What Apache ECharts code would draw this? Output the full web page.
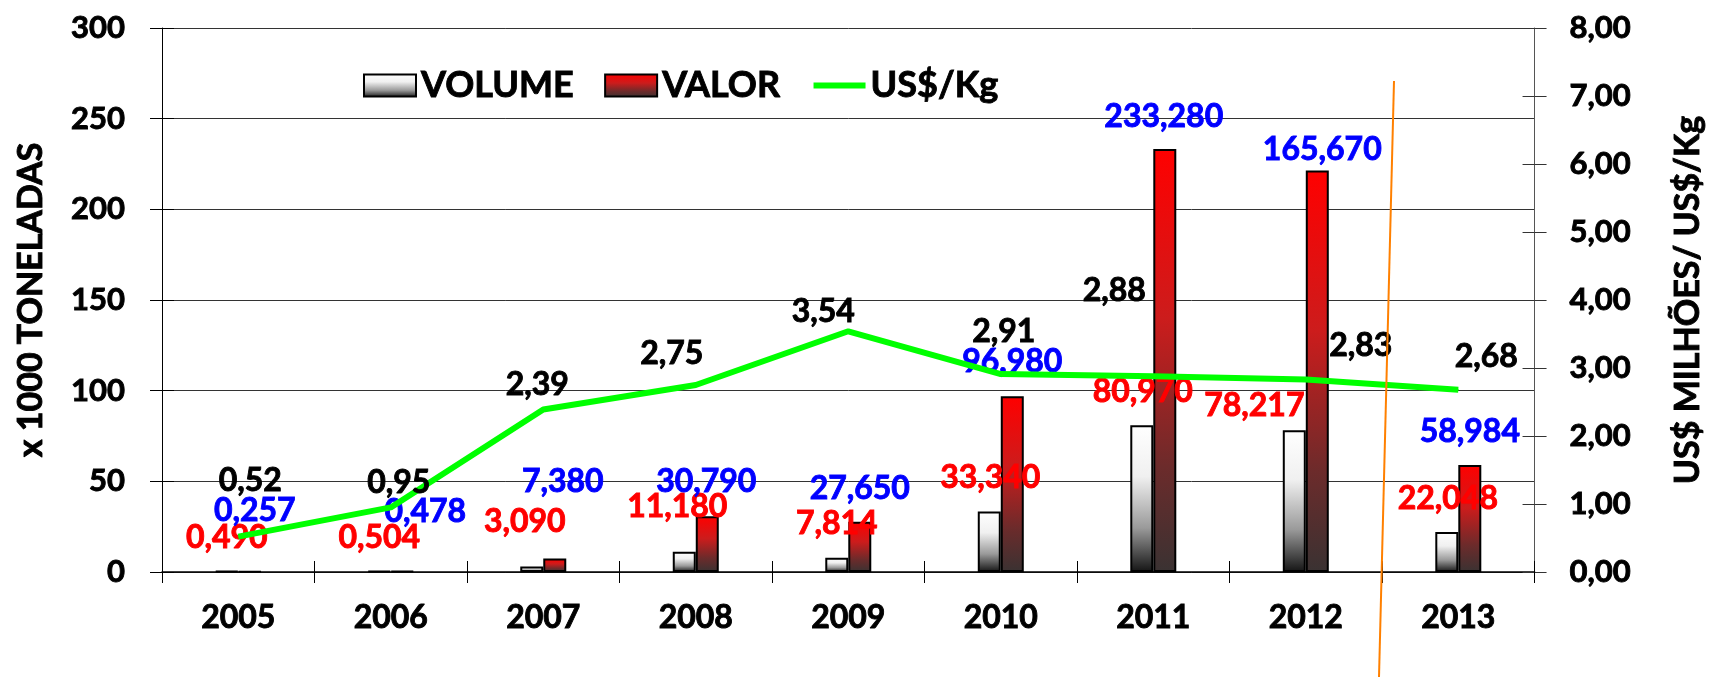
<!DOCTYPE html>
<html>
<head>
<meta charset="utf-8">
<title>Volume x Valor</title>
<script src="https://cdn.jsdelivr.net/npm/echarts@6/dist/echarts.min.js"></script>
<style>
html, body { margin: 0; padding: 0; background: #fff; }
#chart { width: 1713px; height: 678px; }
</style>
</head>
<body>
<div id="chart"></div>
<script>
// dados
var anos = ['2005', '2006', '2007', '2008', '2009', '2010', '2011', '2012', '2013'];
var volume = [0.490, 0.504, 3.090, 11.180, 7.814, 33.340, 80.970, 78.217, 22.048];   // x 1000 t
var valor = [0.257, 0.478, 7.380, 30.790, 27.650, 96.980, 233.280, 221.350, 58.984];  // US$ milhoes
var valorRotulos = ['0,257', '0,478', '7,380', '30,790', '27,650', '96,980', '233,280', '165,670', '58,984'];
var preco = [0.52, 0.95, 2.39, 2.75, 3.54, 2.91, 2.88, 2.83, 2.68];                  // US$/Kg
var ticksEsq = [0, 50, 100, 150, 200, 250, 300];
var ticksDir = [0, 1, 2, 3, 4, 5, 6, 7, 8];

// deslocamento dos rotulos (como foram arrastados no original)
var offVolume = [[0, -33], [0, -33], [-7, -45], [-7, -45], [0, -34], [1, -34], [1, -33], [-40, -24], [1, -33]];
var offValor = [[5, -60], [23, -59], [8, -77], [-1, -34], [0, -33], [0, -34], [-1, -32], [5, -21], [0, -33]];
var offPreco = [[12, -55], [8, -24], [-6, -24], [-24, -31], [-25, -19], [3, -42], [-39, -85], [55, -33], [28, -33]];

var fonte = 'Lato';

function virgula(v, casas) {
  return v.toFixed(casas).replace('.', ',');
}

// texto em negrito "gordo" como no Calibri do original
function txt(cor, tam) {
  return {
    fontFamily: fonte, fontWeight: 'bold', fontSize: tam, color: cor,
    textBorderColor: cor, textBorderWidth: 0.9
  };
}

var chart = echarts.init(document.getElementById('chart'));

var rotulo = {
  show: true,
  position: 'top',
  distance: 0,
  align: 'center',
  verticalAlign: 'middle'
};

chart.setOption({
  backgroundColor: '#fff',
  animation: false,
  textStyle: { fontFamily: fonte },
  grid: { left: 162, right: 174, top: 28, bottom: 106 },
  legend: {
    left: 358,
    top: 62,
    itemWidth: 52,
    itemHeight: 22,
    itemGap: 30,
    textStyle: txt('#000', 36),
    data: [
      { name: 'VOLUME', icon: 'rect' },
      { name: 'VALOR', icon: 'rect' },
      { name: 'US$/Kg', itemStyle: { opacity: 0 }, lineStyle: { width: 6 } }
    ]
  },
  xAxis: [
    {
      type: 'category',
      data: anos,
      axisLine: { lineStyle: { color: '#000', width: 1.5 } },
      axisTick: { show: true, length: 11, lineStyle: { color: '#000', width: 1 } },
      axisLabel: Object.assign(txt('#000', 32), { margin: 30 }),
      splitLine: { show: false }
    },
    {
      // so para os ticks cruzarem o eixo
      type: 'category',
      data: anos,
      position: 'bottom',
      axisLine: { show: false },
      axisTick: { show: true, inside: true, length: 11, lineStyle: { color: '#000', width: 1 } },
      axisLabel: { show: false },
      splitLine: { show: false }
    }
  ],
  yAxis: [
    {
      type: 'value',
      position: 'left',
      min: ticksEsq[0],
      max: ticksEsq[ticksEsq.length - 1],
      interval: 50,
      name: 'x 1000 TONELADAS',
      nameLocation: 'middle',
      nameGap: 114,
      nameTextStyle: txt('#000', 34),
      axisLine: { show: true, lineStyle: { color: '#000', width: 1 } },
      axisTick: { show: true, length: 12, lineStyle: { color: '#000' } },
      axisLabel: Object.assign(txt('#000', 31), { margin: 37 }),
      splitLine: { show: true, lineStyle: { color: '#333', width: 1 } }
    },
    {
      type: 'value',
      position: 'right',
      min: ticksDir[0],
      max: ticksDir[ticksDir.length - 1],
      interval: 1,
      name: 'US$ MILHÕES/ US$/Kg',
      nameLocation: 'middle',
      nameGap: 136,
      nameTextStyle: txt('#000', 34),
      axisLine: { show: true, lineStyle: { color: '#555', width: 1 } },
      axisTick: { show: true, length: 12, lineStyle: { color: '#333' } },
      axisLabel: Object.assign(txt('#000', 31), {
        margin: 35,
        formatter: function (v) { return virgula(v, 2); }
      }),
      splitLine: { show: false }
    },
    {
      type: 'value',
      position: 'left',
      min: 0, max: 300, interval: 50,
      axisLine: { show: false },
      axisTick: { show: true, inside: true, length: 12, lineStyle: { color: '#000' } },
      axisLabel: { show: false },
      splitLine: { show: false }
    },
    {
      type: 'value',
      position: 'right',
      min: 0, max: 8, interval: 1,
      axisLine: { show: false },
      axisTick: { show: true, inside: true, length: 12, lineStyle: { color: '#333' } },
      axisLabel: { show: false },
      splitLine: { show: false }
    }
  ],
  series: [
    {
      name: 'VOLUME',
      type: 'bar',
      yAxisIndex: 0,
      barWidth: 23,
      barGap: '0%',
      itemStyle: {
        color: new echarts.graphic.LinearGradient(0, 0, 0, 1, [
          { offset: 0, color: '#ffffff' },
          { offset: 0.35, color: '#f0f0f0' },
          { offset: 0.7, color: '#9a9a9a' },
          { offset: 1, color: '#141414' }
        ]),
        borderColor: '#000',
        borderWidth: 2
      },
      label: Object.assign({}, rotulo, txt('#ff0000', 32), {
        formatter: function (p) { return virgula(volume[p.dataIndex], 3); }
      }),
      data: volume.map(function (v, i) {
        return { value: v, label: { offset: offVolume[i] } };
      })
    },
    {
      name: 'VALOR',
      type: 'bar',
      yAxisIndex: 0,
      barWidth: 23,
      barGap: '0%',
      itemStyle: {
        color: new echarts.graphic.LinearGradient(0, 0, 0, 1, [
          { offset: 0, color: '#ff0000' },
          { offset: 0.4, color: '#cc1c1c' },
          { offset: 0.75, color: '#6c2b2b' },
          { offset: 1, color: '#3a3232' }
        ]),
        borderColor: '#000',
        borderWidth: 2
      },
      label: Object.assign({}, rotulo, txt('#0000ff', 32), {
        formatter: function (p) { return valorRotulos[p.dataIndex]; }
      }),
      data: valor.map(function (v, i) {
        return { value: v, label: { offset: offValor[i] } };
      })
    },
    {
      name: 'US$/Kg',
      type: 'line',
      yAxisIndex: 1,
      color: '#00ff00',
      symbol: 'circle',
      symbolSize: 1,
      showSymbol: true,
      lineStyle: { color: '#00ff00', width: 6 },
      itemStyle: { color: '#00ff00' },
      label: Object.assign({}, rotulo, txt('#000', 32), {
        formatter: function (p) { return virgula(preco[p.dataIndex], 2); }
      }),
      data: preco.map(function (v, i) {
        return { value: v, label: { offset: offPreco[i] } };
      })
    }
  ],
  graphic: [
    {
      // traco laranja solto no original
      type: 'line',
      z: 100,
      shape: { x1: 1394, y1: 81, x2: 1379, y2: 677 },
      style: { stroke: '#ff8000', lineWidth: 2 }
    }
  ]
});
</script>
</body>
</html>
